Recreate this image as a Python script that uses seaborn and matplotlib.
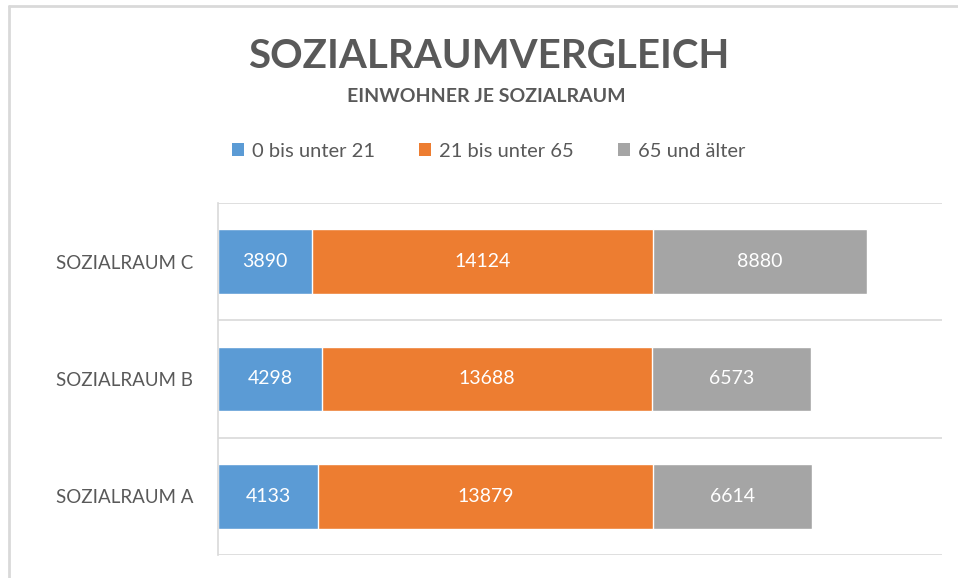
import pandas as pd
import matplotlib.pyplot as plt
import seaborn as sns
from matplotlib.lines import Line2D
from matplotlib.patches import Patch

# Data
areas = ['SOZIALRAUM C', 'SOZIALRAUM B', 'SOZIALRAUM A']
groups = ['0 bis unter 21', '21 bis unter 65', '65 und älter']
young = [3890, 4298, 4133]
middle = [14124, 13688, 13879]
old = [8880, 6573, 6614]
colors = ['#5B9BD5', '#ED7D31', '#A5A5A5']

df = pd.DataFrame({'area': areas, groups[0]: young, groups[1]: middle, groups[2]: old})
cum = df[groups].cumsum(axis=1)

sns.set_theme(style='white')
plt.rcParams['font.family'] = ['Lato', 'DejaVu Sans']

fig = plt.figure(figsize=(9.58, 5.78), dpi=100)
ax = fig.add_axes([0.2276, 0.0398, 0.7557, 0.609])

# stacked bars: draw cumulative totals from the back to the front
for g, c in reversed(list(zip(groups, colors))):
    sns.barplot(x=cum[g], y=df['area'], color=c, orient='h', width=0.55,
                saturation=1, ax=ax, order=areas)

# segment labels
for i in range(len(areas)):
    start = 0
    for g in groups:
        v = df[g].iloc[i]
        ax.text(start + v / 2, i, str(v), ha='center', va='center',
                color='white', fontsize=14)
        start += v

ax.set_xlim(0, 30000)
ax.set_ylim(2.5, -0.5)
ax.set_xticks([])
ax.set_xlabel('')
ax.set_ylabel('')
for yy in [-0.5, 0.5, 1.5, 2.5]:
    ax.axhline(yy, color='#D9D9D9', linewidth=1.2, zorder=0)
for s in ['top', 'right', 'bottom']:
    ax.spines[s].set_visible(False)
ax.spines['left'].set_color('#D9D9D9')
ax.spines['left'].set_linewidth(1.2)
ax.tick_params(axis='y', length=0, pad=18)
ax.set_yticks(range(len(areas)))
ax.set_yticklabels(areas, fontsize=13.5, color='#595959')

# titles
fig.text(0.51, 0.902, 'SOZIALRAUMVERGLEICH', ha='center', va='center',
         fontsize=29, fontweight='bold', color='#595959')
fig.text(0.508, 0.833, 'EINWOHNER JE SOZIALRAUM', ha='center', va='center',
         fontsize=14, fontweight='bold', color='#595959')

# legend
handles = [Patch(facecolor=c, edgecolor='none') for c in colors]
fig.legend(handles, groups, loc='center', bbox_to_anchor=(0.51, 0.738), ncol=3,
           frameon=False, fontsize=14.5, handlelength=0.6, handleheight=0.6,
           handletextpad=0.4, columnspacing=2.2, labelcolor='#595959')

# outer frame of the screenshot
fig.add_artist(Line2D([0.009, 1.0], [0.99, 0.99], color='#D9D9D9', linewidth=2,
                      transform=fig.transFigure))
fig.add_artist(Line2D([0.009, 0.009], [0.0, 0.99], color='#D9D9D9', linewidth=2,
                      transform=fig.transFigure))

fig.savefig('out.png', dpi=100)
